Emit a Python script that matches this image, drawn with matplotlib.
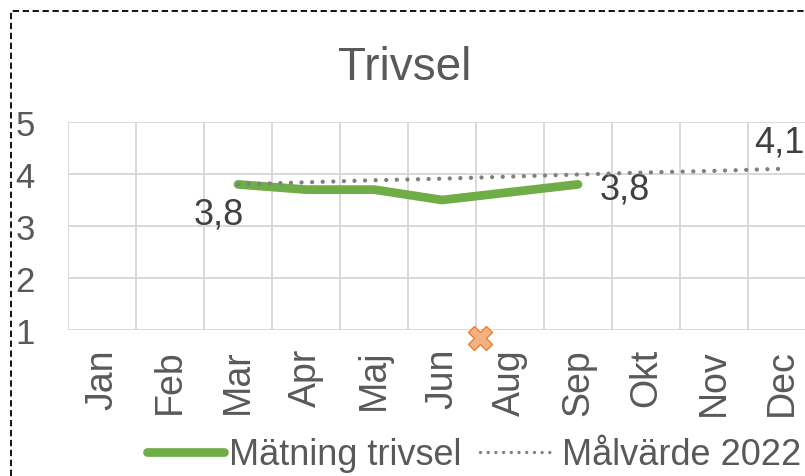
import numpy as np
import matplotlib
matplotlib.use('Agg')
import matplotlib.pyplot as plt
from matplotlib.lines import Line2D

plt.rcParams['font.family'] = ['Liberation Sans', 'DejaVu Sans']

# ---- data ----
months = ['Jan', 'Feb', 'Mar', 'Apr', 'Maj', 'Jun', 'Aug', 'Sep', 'Okt', 'Nov', 'Dec']
matning = [np.nan, np.nan, 3.8, 3.7, 3.7, 3.5, 3.65, 3.8, np.nan, np.nan, np.nan]
malvarde = [np.nan, np.nan, 3.8, 3.84, 3.88, 3.91, 3.95, 3.99, 4.03, 4.06, 4.1]
extra_x = [5.56]
extra_y = [0.85]
yticks = [1, 2, 3, 4, 5]
title = 'Trivsel'
series_names = ['Mätning trivsel', 'Målvärde 2022']

TXT = '#595959'
LBL = '#404040'
GRID = '#D9D9D9'
GREEN = '#70AD47'
DOT = '#808080'
W, H = 805, 477

fig = plt.figure(figsize=(W / 100, H / 100), dpi=100)
ax = fig.add_axes([68 / W, 1 - 331 / H, 748 / W, 208 / H])

x = np.arange(len(months))
ax.set_xlim(-0.5, len(months) - 0.5)
ax.set_ylim(1, 5)

for s in ax.spines.values():
    s.set_visible(False)
ax.axhline(1, color=GRID, lw=1.8, zorder=1)

ax.set_yticks(yticks)
ax.set_yticklabels([str(v) for v in yticks])
ax.set_xticks(x)
ax.set_xticklabels(months, rotation=90)
ax.set_xticks(np.arange(-0.5, len(months), 1), minor=True)
ax.grid(which='major', axis='y', color=GRID, lw=1.4, zorder=0)
ax.grid(which='minor', axis='x', color=GRID, lw=1.4, zorder=0)
ax.tick_params(which='both', length=0)
ax.tick_params(axis='y', labelsize=25, labelcolor=TXT, pad=24)
ax.tick_params(axis='x', labelsize=27, labelcolor=TXT, pad=13)

l1, = ax.plot(x, matning, color=GREEN, lw=6.3, solid_capstyle='round',
              solid_joinstyle='round', zorder=3)
l2, = ax.plot(x, malvarde, color=DOT, lw=3.1, linestyle=(0, (0.01, 2.45)),
              dash_capstyle='round', zorder=4)
ax.plot(extra_x, extra_y, marker='X', markersize=17, markerfacecolor='#F4B183',
        markeredgecolor='#ED7D31', markeredgewidth=1, linestyle='none',
        clip_on=False, zorder=5)

# data labels
fmt = lambda v: f'{v:.1f}'.replace('.', ',')
ax.annotate(fmt(matning[2]), (x[2], matning[2]), xytext=(-13.7, -27.8),
            textcoords='offset points', ha='center', va='baseline',
            fontsize=26, color=LBL)
ax.annotate(fmt(matning[7]), (x[7], matning[7]), xytext=(15.8, -10.5),
            textcoords='offset points', ha='left', va='baseline',
            fontsize=26, color=LBL)
ax.annotate(fmt(malvarde[10]), (x[10], malvarde[10]), xytext=(-2.2, 12.8),
            textcoords='offset points', ha='center', va='baseline',
            fontsize=26, color=LBL, annotation_clip=False)

fig.text(405 / W, 1 - 80 / H, title, ha='center', va='baseline',
         fontsize=33, color=TXT)

leg_handles = [
    Line2D([], [], color=GREEN, lw=6.3, solid_capstyle='round'),
    Line2D([], [], color=DOT, lw=2.4, linestyle=(0, (0.01, 2.3)), dash_capstyle='round'),
]
fig.legend(leg_handles, series_names, loc='center', bbox_to_anchor=(474 / W, 1 - 456 / H),
           ncol=2, frameon=False, fontsize=26, labelcolor=TXT,
           handlelength=2.13, handletextpad=0.14, columnspacing=0.53,
           borderpad=0, borderaxespad=0)

# dashed border
fig.add_artist(Line2D([11 / W, 11 / W, 1.0], [0.0, 1 - 12 / H, 1 - 12 / H],
                      transform=fig.transFigure, color='black', lw=1.3,
                      linestyle=(0, (3.5, 2))))

fig.savefig('out.png', dpi=100)
